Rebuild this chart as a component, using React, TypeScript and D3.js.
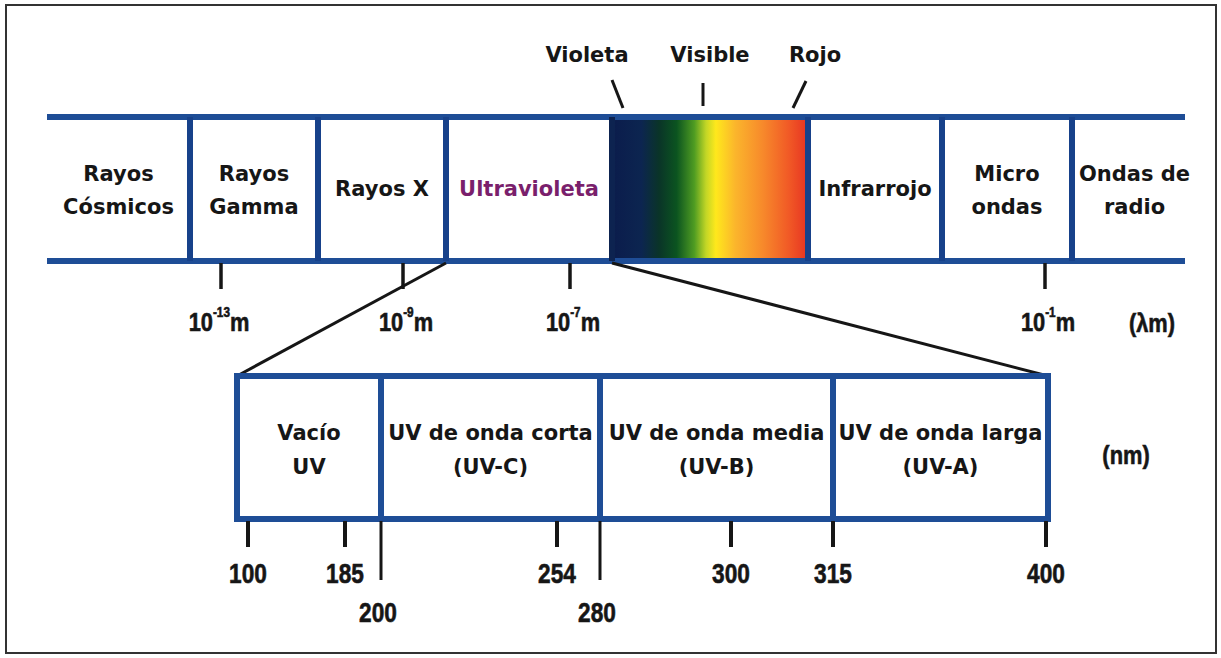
import { useMemo } from "react";
import * as d3 from "d3";

// bandas del espectro (de izquierda a derecha)
const espectroBandas = [
  ["Rayos", "Cósmicos"],
  ["Rayos", "Gamma"],
  ["Rayos  X"],
  ["Ultravioleta"],
  [],
  ["Infrarrojo"],
  ["Micro", "ondas"],
  ["Ondas de", "radio"],
];
const etiquetasVisible = ["Violeta", "Visible", "Rojo"];
const exponentesLambda = [-13, -9, -7, -1];

// detalle UV en nm
const uvBandas = [
  ["Vacío", "UV"],
  ["UV de onda corta", "(UV-C)"],
  ["UV de onda media", "(UV-B)"],
  ["UV de onda larga", "(UV-A)"],
];
const uvLimites = [100, 200, 280, 315, 400];
const nmTicks = [100, 185, 200, 254, 280, 300, 315, 400];
const nmTicksLargos = [200, 280];

const spectrumStops = [
  [0, "#0b1c4c"],
  [0.15, "#0c2550"],
  [0.24, "#0a3428"],
  [0.33, "#0b5420"],
  [0.42, "#4f9c22"],
  [0.48, "#c2d626"],
  [0.53, "#ffe81c"],
  [0.63, "#fbb52c"],
  [0.77, "#f7892b"],
  [0.9, "#f15a26"],
  [1, "#e63322"],
];

const W = 1221;
const H = 658;
const BLUE = "#1e4d96";
const INK = "#161616";
const LABEL_FONT = "'DejaVu Sans', sans-serif";
const NUM_FONT = "'Liberation Sans', Arial, sans-serif";

const CondText = ({ x, y, size, children }: any) => (
  <text
    transform={`translate(${x},${y}) scale(0.84,1)`}
    textAnchor="middle"
    fontFamily={NUM_FONT}
    fontWeight="bold"
    fontSize={size}
    fill={INK}
    stroke={INK}
    strokeWidth={0.6}
  >
    {children}
  </text>
);

export default function App() {
  const top = { y0: 117, y1: 261 };
  const bot = { y0: 376, y1: 519, left: 237 };

  // escala por índice de borde de banda
  const xBand = useMemo(
    () =>
      d3
        .scaleLinear()
        .domain(d3.range(espectroBandas.length + 1))
        .range([47, 190, 318, 446, 612, 808, 942, 1072, 1185]),
    []
  );
  // posición de las marcas de longitud de onda (exponente de 10)
  const xExp = useMemo(
    () => d3.scaleLinear().domain(exponentesLambda).range([221, 403, 570, 1045]),
    []
  );
  // escala en nm (no lineal en el dibujo original)
  const xNm = useMemo(
    () =>
      d3
        .scaleLinear()
        .domain(nmTicks)
        .range([248, 345, 381, 557, 600, 731, 833, 1046]),
    []
  );

  const visIdx = 4;
  const vx0 = xBand(visIdx);
  const vx1 = xBand(visIdx + 1);
  const botRight = xNm(400) + 2;

  const pointers = [
    { x1: vx0, y1: 80, x2: vx0 + 11, y2: 108 },
    { x1: (vx0 + vx1) / 2 - 7, y1: 83, x2: (vx0 + vx1) / 2 - 7, y2: 106 },
    { x1: vx1 - 2, y1: 81, x2: vx1 - 15, y2: 108 },
  ];
  const visLabelX = [587, 710, 815];

  return (
    <svg
      width={W}
      height={H}
      style={{ position: "absolute", left: 0, top: 0, background: "#fff" }}
    >
      <defs>
        <linearGradient id="spec" x1="0" x2="1" y1="0" y2="0">
          {spectrumStops.map(([o, c]) => (
            <stop key={o as number} offset={o as number} stopColor={c as string} />
          ))}
        </linearGradient>
      </defs>

      <rect x={6} y={5} width={1210} height={648} fill="#fff" stroke="#333" strokeWidth={2} />

      {/* banda visible */}
      <rect x={vx0} y={top.y0} width={vx1 - vx0} height={top.y1 - top.y0} fill="url(#spec)" />

      {/* líneas de la banda superior */}
      {[top.y0, top.y1].map((y) => (
        <line key={y} x1={xBand(0)} x2={xBand(8)} y1={y} y2={y} stroke={BLUE} strokeWidth={6} />
      ))}
      {d3.range(1, espectroBandas.length).map((i) => (
        <line
          key={i}
          x1={xBand(i)}
          x2={xBand(i)}
          y1={top.y0}
          y2={top.y1}
          stroke={i === visIdx ? "#0d2350" : "#17418a"}
          strokeWidth={6}
        />
      ))}

      {/* etiquetas de bandas */}
      {espectroBandas.map((lines, i) => {
        const cx = (xBand(i) + xBand(i + 1)) / 2 + (i === 7 ? 6 : 0);
        const base = lines.length === 2 ? [181, 214] : [196];
        return lines.map((t, j) => (
          <text
            key={i + "-" + j}
            x={cx}
            y={base[j]}
            textAnchor="middle"
            fontFamily={LABEL_FONT}
            fontWeight="bold"
            fontSize={21}
            fill={t === "Ultravioleta" ? "#7a1f6c" : INK}
          >
            {t}
          </text>
        ));
      })}

      {/* violeta / visible / rojo */}
      {etiquetasVisible.map((t, i) => (
        <text
          key={t}
          x={visLabelX[i]}
          y={62}
          textAnchor="middle"
          fontFamily={LABEL_FONT}
          fontWeight="bold"
          fontSize={21}
          fill={INK}
        >
          {t}
        </text>
      ))}
      {pointers.map((p, i) => (
        <line key={i} {...p} stroke={INK} strokeWidth={3} />
      ))}

      {/* marcas de longitud de onda */}
      {exponentesLambda.map((e) => (
        <g key={e}>
          <line x1={xExp(e)} x2={xExp(e)} y1={top.y1 + 2} y2={289} stroke={INK} strokeWidth={3.5} />
          <CondText x={xExp(e) + (e === -13 ? -2 : 3)} y={331} size={26}>
            10
            <tspan dy={-14} fontSize={14}>
              {`-${-e}`}
            </tspan>
            <tspan dy={14}>m</tspan>
          </CondText>
        </g>
      ))}
      <CondText x={1152} y={332} size={26}>
        (λm)
      </CondText>

      {/* líneas de ampliación */}
      <line x1={xBand(3)} y1={top.y1 + 2} x2={bot.left} y2={bot.y0} stroke={INK} strokeWidth={3} />
      <line x1={xBand(4)} y1={top.y1 + 2} x2={botRight} y2={bot.y0} stroke={INK} strokeWidth={3} />

      {/* banda UV */}
      <rect
        x={bot.left}
        y={bot.y0}
        width={botRight - bot.left}
        height={bot.y1 - bot.y0}
        fill="#fff"
        stroke={BLUE}
        strokeWidth={6}
      />
      {uvLimites.slice(1, -1).map((v) => (
        <line key={v} x1={xNm(v)} x2={xNm(v)} y1={bot.y0} y2={bot.y1} stroke={BLUE} strokeWidth={6} />
      ))}
      {uvBandas.map((lines, i) => {
        const a = i === 0 ? bot.left : xNm(uvLimites[i]);
        const b = i === uvBandas.length - 1 ? botRight : xNm(uvLimites[i + 1]);
        return lines.map((t, j) => (
          <text
            key={i + "-" + j}
            x={(a + b) / 2}
            y={j === 0 ? 440 : 474}
            textAnchor="middle"
            fontFamily={LABEL_FONT}
            fontWeight="bold"
            fontSize={21}
            fill={INK}
          >
            {t}
          </text>
        ));
      })}
      <CondText x={1126} y={464} size={26}>
        (nm)
      </CondText>

      {/* marcas nm */}
      {nmTicks.map((v) => {
        const largo = nmTicksLargos.includes(v);
        return (
          <g key={v}>
            <line
              x1={xNm(v)}
              x2={xNm(v)}
              y1={bot.y1 + 2}
              y2={largo ? 580 : 547}
              stroke={INK}
              strokeWidth={largo ? 3 : 4}
            />
            <CondText x={xNm(v) + (largo ? -3 : 0)} y={largo ? 622 : 583} size={27}>
              {v}
            </CondText>
          </g>
        );
      })}
    </svg>
  );
}
